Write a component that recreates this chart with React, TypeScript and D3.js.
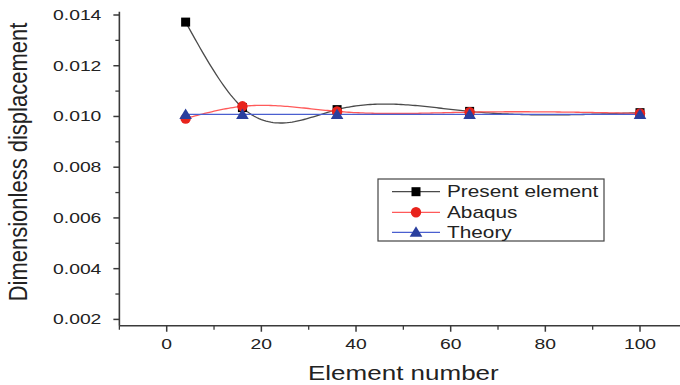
import React from "react";
import * as d3 from "d3";

const elements = [4, 16, 36, 64, 100];
const presentElement = [0.01372, 0.01035, 0.01027, 0.0102, 0.01015];
const abaqus = [0.00992, 0.0104, 0.0102, 0.01017, 0.01012];
const theory = [0.01008, 0.01008, 0.01008, 0.01008, 0.01008];
const xTicks = [0, 20, 40, 60, 80, 100];
const yTicks = [0.002, 0.004, 0.006, 0.008, 0.01, 0.012, 0.014];
const seriesNames = ["Present element", "Abaqus", "Theory"];

const W = 680;
const H = 385;
const FONT = "'Liberation Sans', Arial, sans-serif";
const SX = 1.38;

function naturalSpline(xs: number[], ys: number[]) {
  const n = xs.length;
  const h: number[] = [];
  for (let i = 0; i < n - 1; i++) h.push(xs[i + 1] - xs[i]);
  const a = new Array(n).fill(0);
  const b = new Array(n).fill(0);
  const c = new Array(n).fill(0);
  const r = new Array(n).fill(0);
  b[0] = 1;
  b[n - 1] = 1;
  for (let i = 1; i < n - 1; i++) {
    a[i] = h[i - 1];
    b[i] = 2 * (h[i - 1] + h[i]);
    c[i] = h[i];
    r[i] = 6 * ((ys[i + 1] - ys[i]) / h[i] - (ys[i] - ys[i - 1]) / h[i - 1]);
  }
  // Thomas algorithm
  const cp = new Array(n).fill(0);
  const rp = new Array(n).fill(0);
  cp[0] = c[0] / b[0];
  rp[0] = r[0] / b[0];
  for (let i = 1; i < n; i++) {
    const m = b[i] - a[i] * cp[i - 1];
    cp[i] = c[i] / m;
    rp[i] = (r[i] - a[i] * rp[i - 1]) / m;
  }
  const M = new Array(n).fill(0);
  M[n - 1] = rp[n - 1];
  for (let i = n - 2; i >= 0; i--) M[i] = rp[i] - cp[i] * M[i + 1];
  return (x: number) => {
    let i = 0;
    while (i < n - 2 && x > xs[i + 1]) i++;
    const t1 = xs[i + 1] - x;
    const t0 = x - xs[i];
    const hi = h[i];
    return (
      (M[i] * t1 * t1 * t1) / (6 * hi) +
      (M[i + 1] * t0 * t0 * t0) / (6 * hi) +
      (ys[i] / hi - (M[i] * hi) / 6) * t1 +
      (ys[i + 1] / hi - (M[i + 1] * hi) / 6) * t0
    );
  };
}

export default function App() {
  const x = d3.scaleLinear().domain([0, 100]).range([166.7, 640]);
  const y = d3.scaleLinear().domain([0.002, 0.014]).range([319.4, 15]);

  const axisLeft = x(-10);
  const axisBottom = y(0.00175);
  const axisTop = y(0.01413);

  const series = [
    { name: seriesNames[0], values: presentElement, color: "#4a4a4a", marker: "square", fill: "#000" },
    { name: seriesNames[1], values: abaqus, color: "#ff5a5a", marker: "circle", fill: "#e8231c" },
    { name: seriesNames[2], values: theory, color: "#4a5fd0", marker: "triangle", fill: "#2a3f9e" },
  ];

  const line = d3
    .line<[number, number]>()
    .x((d) => x(d[0]))
    .y((d) => y(d[1]));

  const curvePath = (vals: number[]) => {
    const f = naturalSpline(elements, vals);
    const pts: [number, number][] = [];
    for (let v = elements[0]; v <= elements[elements.length - 1]; v += 0.5) pts.push([v, f(v)]);
    return line(pts) || "";
  };

  const marker = (kind: string, cx: number, cy: number, fill: string, key: string) => {
    if (kind === "square")
      return <rect key={key} x={cx - 4.5} y={cy - 4.5} width={9} height={9} fill={fill} />;
    if (kind === "circle") return <circle key={key} cx={cx} cy={cy} r={5.2} fill={fill} />;
    const s = 6;
    return (
      <path
        key={key}
        d={`M${cx},${cy - s}L${cx + s * 1.05},${cy + s * 0.75}L${cx - s * 1.05},${cy + s * 0.75}Z`}
        fill={fill}
      />
    );
  };

  const yMinor = d3.range(0.003, 0.0141, 0.002);
  const xMinor = d3.range(-10, 111, 20);

  const legendRows = [191.7, 212.3, 232.3];

  return (
    <svg width={W} height={H} style={{ display: "block", position: "absolute", left: 0, top: 0, background: "#fff" }}>
      <rect x={0} y={0} width={W} height={H} fill="#fff" />
      {/* series curves */}
      {series.map((s) => (
        <path key={s.name} d={curvePath(s.values)} fill="none" stroke={s.color} strokeWidth={1.3} />
      ))}
      {series.map((s) =>
        s.values.map((v, i) => marker(s.marker, x(elements[i]), y(v), s.fill, s.name + i))
      )}
      {/* axes */}
      <line x1={axisLeft} x2={axisLeft} y1={axisTop} y2={axisBottom} stroke="#3a3a3a" strokeWidth={1.6} />
      <line x1={axisLeft} x2={W + 10} y1={axisBottom} y2={axisBottom} stroke="#3a3a3a" strokeWidth={1.6} />
      {yTicks.map((t) => (
        <g key={"yt" + t}>
          <line x1={axisLeft - 6} x2={axisLeft} y1={y(t)} y2={y(t)} stroke="#3a3a3a" strokeWidth={1.5} />
          <text
            transform={`translate(${axisLeft - 18},${y(t) + 5}) scale(${SX},1)`}
            textAnchor="end"
            fontFamily={FONT}
            fontSize={14}
            fill="#222"
          >
            {d3.format(".3f")(t)}
          </text>
        </g>
      ))}
      {yMinor.map((t) => (
        <line key={"ym" + t} x1={axisLeft - 4} x2={axisLeft} y1={y(t)} y2={y(t)} stroke="#3a3a3a" strokeWidth={1.3} />
      ))}
      {xTicks.map((t) => (
        <g key={"xt" + t}>
          <line x1={x(t)} x2={x(t)} y1={axisBottom} y2={axisBottom + 6} stroke="#3a3a3a" strokeWidth={1.5} />
          <text
            transform={`translate(${x(t)},${axisBottom + 23}) scale(${SX},1)`}
            textAnchor="middle"
            fontFamily={FONT}
            fontSize={14}
            fill="#222"
          >
            {t}
          </text>
        </g>
      ))}
      {xMinor.map((t) => (
        <line key={"xm" + t} x1={x(t)} x2={x(t)} y1={axisBottom} y2={axisBottom + 4} stroke="#3a3a3a" strokeWidth={1.3} />
      ))}
      {/* axis titles */}
      <text
        transform={`translate(${x(50)},380) scale(1.3,1)`}
        textAnchor="middle"
        fontFamily={FONT}
        fontSize={20}
        fill="#222"
      >
        Element number
      </text>
      <text
        transform={`translate(27,${162}) scale(1.15,1) rotate(-90)`}
        textAnchor="middle"
        fontFamily={FONT}
        fontSize={22}
        fill="#222"
      >
        Dimensionless displacement
      </text>
      {/* legend */}
      <rect x={378} y={179} width={226} height={62} fill="#fff" stroke="#444" strokeWidth={1.2} />
      {series.map((s, i) => (
        <g key={"lg" + s.name}>
          <line x1={392} x2={440} y1={legendRows[i]} y2={legendRows[i]} stroke={s.color} strokeWidth={1.2} />
          {marker(s.marker, 416, legendRows[i], s.fill, "lm" + i)}
          <text
            transform={`translate(447,${legendRows[i] + 5.5}) scale(1.3,1)`}
            fontFamily={FONT}
            fontSize={16}
            fill="#222"
          >
            {s.name}
          </text>
        </g>
      ))}
    </svg>
  );
}
